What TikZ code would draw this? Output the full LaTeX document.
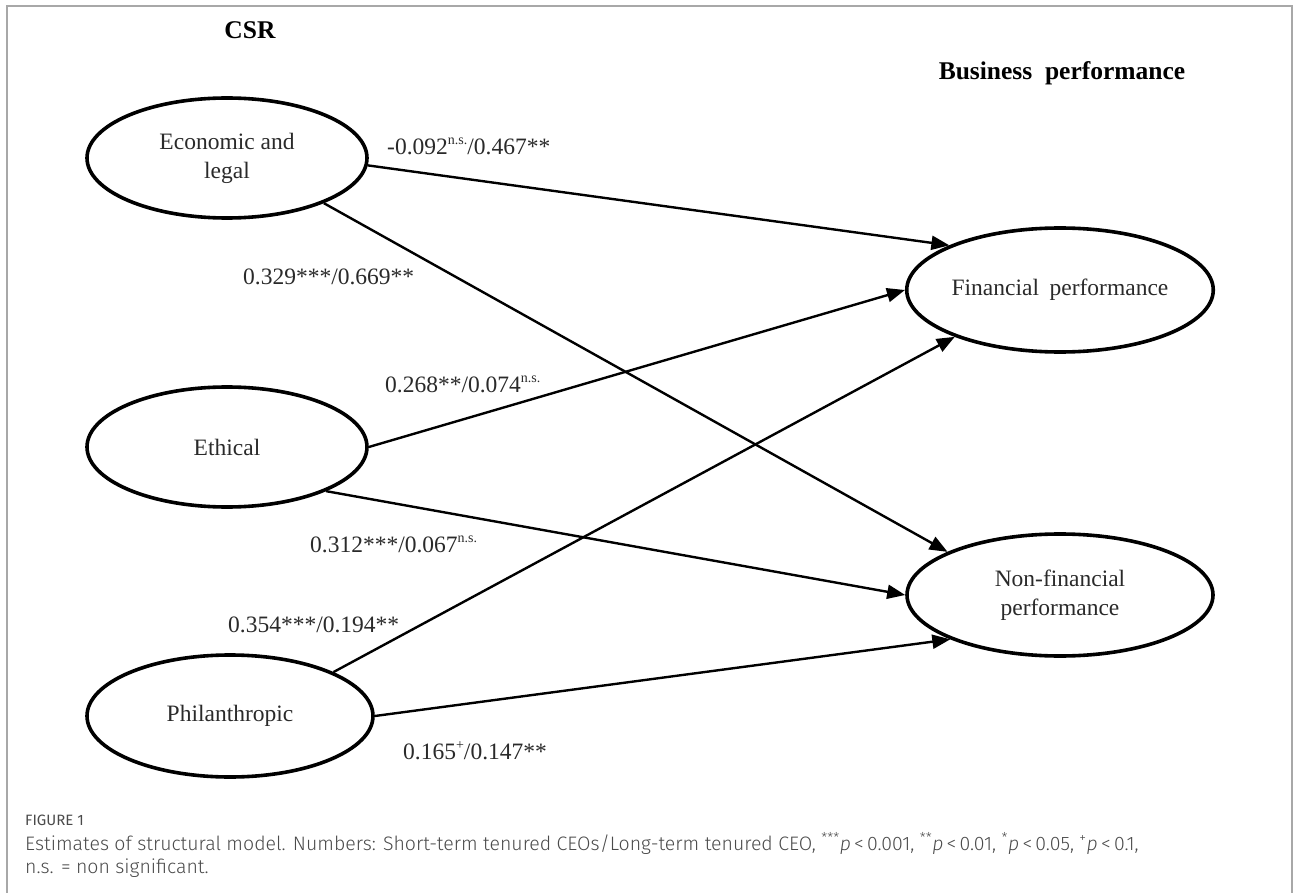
\documentclass[tikz,border=0pt]{standalone}
\usepackage{fontspec}
\setmainfont{Liberation Serif}
\newfontfamily\capfont{Fira Sans Light}
\newfontfamily\figfont{Fira Sans}
\usetikzlibrary{shapes.geometric,arrows.meta}
\newcommand{\supx}[1]{\raisebox{10pt}{\fontsize{14}{14}\selectfont #1}}
\definecolor{txt}{HTML}{2A2A2A}
\definecolor{capgray}{HTML}{4A4A4A}
\definecolor{framegray}{HTML}{A8A8A8}
\begin{document}
\begin{tikzpicture}[x=1pt,y=-1pt,
  ell/.style={ellipse,draw=black,line width=3.6pt,inner sep=0pt,
    minimum width=280pt,minimum height=120pt,align=center,text=txt,
    font=\fontsize{23.5}{29}\selectfont},
  arr/.style={line width=2.4pt,-{Triangle[length=18pt,width=14pt]}},
  lab/.style={anchor=base west,inner sep=0pt,text=txt,font=\fontsize{23.5}{28}\selectfont},
  ttl/.style={inner sep=0pt,font=\fontsize{25.5}{30}\selectfont\bfseries},
  captext/.style={anchor=base west,inner sep=0pt,text=capgray,font=\capfont\fontsize{19.5}{23}\selectfont}]
\useasboundingbox (0,0) rectangle (1293,893);
\draw[framegray,line width=2pt] (7,893) -- (7,6) -- (1292,6) -- (1292,893);

\node[ttl] (csr) at (250,30) {CSR};
\node[ttl] (bp) at (1062,73) {Business\hspace{0.5em}performance};

\node[ell] (econ) at (227,158) {Economic and\\legal};
\node[ell] (eth) at (227,447) {Ethical};
\node[ell,minimum width=286pt,minimum height=122pt] (phil) at (230,716) {Philanthropic};
\node[ell,minimum width=306pt,minimum height=124pt] (fin) at (1060,290) {Financial\hspace{0.45em}performance};
\node[ell,minimum width=306pt,minimum height=122pt] (nonfin) at (1060,595) {Non-financial\\performance};

\draw[arr] (econ.-3) -- (fin.158);
\draw[arr] (econ.-25) -- (nonfin.159);
\draw[arr] (eth.0) -- (fin.180);
\draw[arr] (eth.-24) -- (nonfin.180);
\draw[arr] (phil.23) -- (fin.204);
\draw[arr] (phil.0) -- (nonfin.202);

\node[lab] (l1) at (387,155) {-0.092\supx{n.s.}/0.467**};
\node[lab] (l2) at (243,285) {0.329***/0.669**};
\node[lab] (l3) at (385,392) {0.268**/0.074\supx{n.s.}};
\node[lab] (l4) at (310,552) {0.312***/0.067\supx{n.s.}};
\node[lab] (l5) at (228,632) {0.354***/0.194**};
\node[lab] (l6) at (403,759) {0.165\supx{+}/0.147**};

\node[captext,font=\figfont\fontsize{15}{16}\selectfont] (figlab) at (25,825) {FIGURE 1};
\node[captext] (cap1) at (25,850) {Estimates of structural model. Numbers: Short-term tenured CEOs/Long-term tenured CEO, \textsuperscript{***}\textit{p}\,<\,0.001, \textsuperscript{**}\textit{p}\,<\,0.01, \textsuperscript{*}\textit{p}\,<\,0.05, \textsuperscript{+}\textit{p}\,<\,0.1,};
\node[captext] (cap2) at (25,873) {n.s. = non significant.};
\end{tikzpicture}
\end{document}
